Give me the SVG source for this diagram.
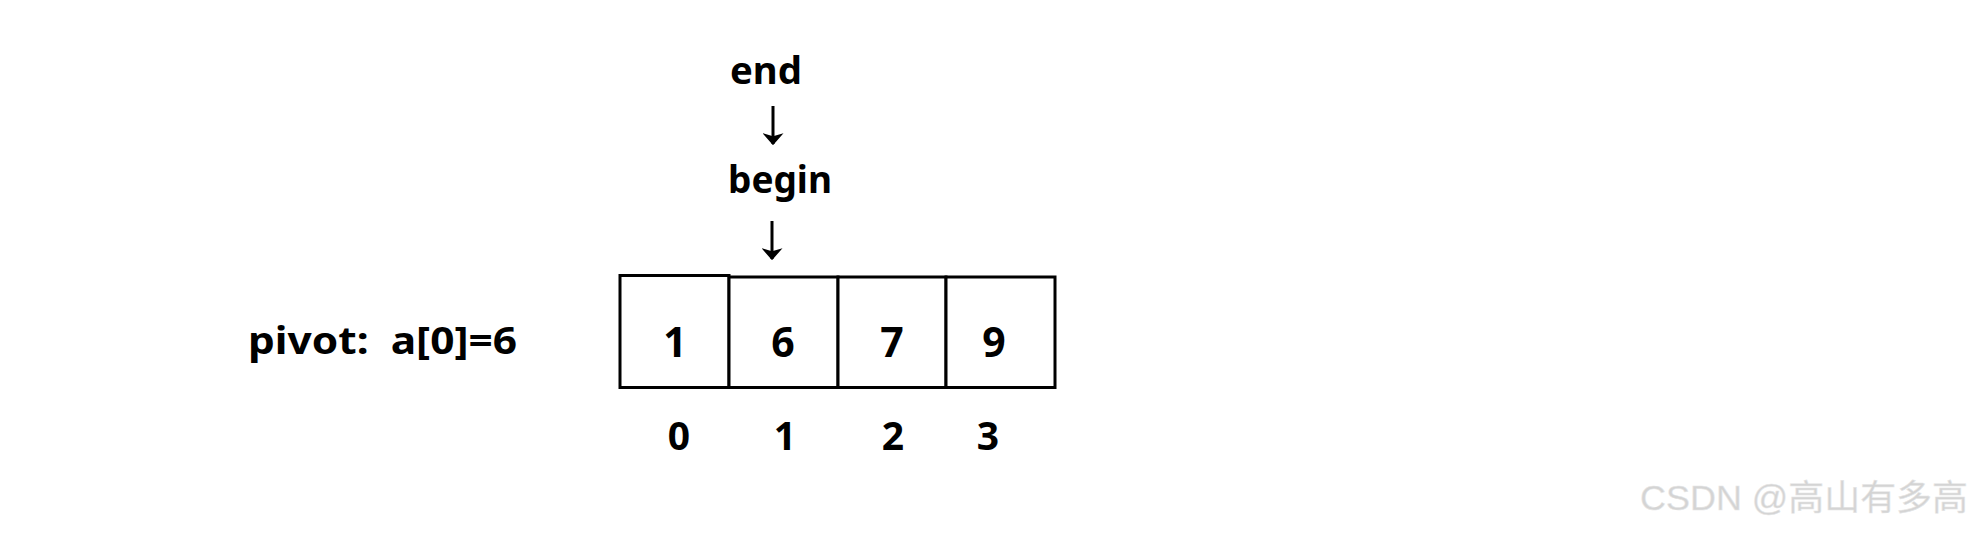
<svg xmlns="http://www.w3.org/2000/svg" width="1978" height="534" viewBox="0 0 1978 534">
<style>
.t{font-family:"Noto Sans","Open Sans","DejaVu Sans",sans-serif;font-weight:bold;fill:#000}
.cell{fill:#fff;stroke:#000;stroke-width:3}
.arr{stroke:#000;stroke-width:3;fill:none}
.wm{font-family:"Liberation Sans","Noto Sans CJK SC",sans-serif;font-size:35px;fill:#d4d4d4;stroke:#e8e8e8;stroke-width:0.5}
</style>
<defs>
<marker id="ah" markerWidth="4" markerHeight="7" refX="3.6" refY="3.5" orient="auto" markerUnits="strokeWidth">
<path d="M0,0 L4,3.5 L0,7 L1,3.5 Z" fill="#000"/>
</marker>
</defs>
<rect width="1978" height="534" fill="#fff"/>
<g id="label-end"><text class="t" x="730" y="84" font-size="37" textLength="72" lengthAdjust="spacingAndGlyphs">end</text></g>
<g id="label-begin"><text class="t" x="728" y="193" font-size="37" textLength="104" lengthAdjust="spacingAndGlyphs">begin</text></g>
<g id="pivot"><text class="t" x="248" y="354" font-size="37" xml:space="preserve" textLength="269" lengthAdjust="spacingAndGlyphs">pivot:  a[0]=6</text></g>
<g id="cell0"><rect class="cell" x="620" y="275.5" width="109" height="112"/><text class="t" x="675" y="357" font-size="41" text-anchor="middle">1</text></g>
<g id="cell1"><rect class="cell" x="729" y="277" width="109" height="110.5"/><text class="t" x="783" y="357" font-size="41" text-anchor="middle">6</text></g>
<g id="cell2"><rect class="cell" x="838" y="277" width="108" height="110.5"/><text class="t" x="892" y="357" font-size="41" text-anchor="middle">7</text></g>
<g id="cell3"><rect class="cell" x="946" y="277" width="109" height="110.5"/><text class="t" x="994" y="357" font-size="41" text-anchor="middle">9</text></g>
<g id="indices">
<text class="t" x="679" y="450" font-size="39" text-anchor="middle">0</text>
<text class="t" x="785" y="450" font-size="39" text-anchor="middle">1</text>
<text class="t" x="893" y="450" font-size="39" text-anchor="middle">2</text>
<text class="t" x="988" y="450" font-size="39" text-anchor="middle">3</text>
</g>
<g id="connectors">
<line class="arr" x1="773" y1="106" x2="773" y2="144" marker-end="url(#ah)"/>
<line class="arr" x1="772" y1="221" x2="772" y2="259" marker-end="url(#ah)"/>
</g>
<g id="watermark"><text class="wm" x="1640" y="510" textLength="328" lengthAdjust="spacingAndGlyphs">CSDN @高山有多高</text></g>
</svg>
